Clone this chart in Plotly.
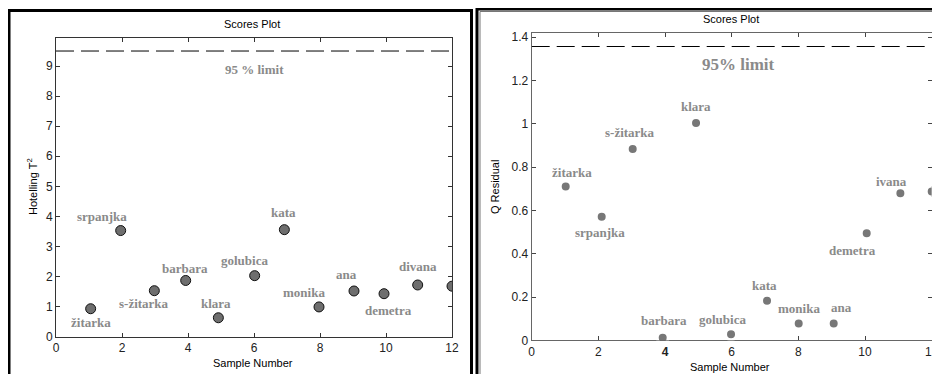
import plotly.graph_objects as go

# page body has an 8px margin, so the figure sits at (8, 8) in the 940x374 window
OFF = 8
W, H = 940 - OFF, 374 - OFF

# ---------------- data ----------------
sample_left_pos = [1.05, 1.96, 2.98, 3.93, 4.92, 6.02, 6.92, 7.97, 9.03, 9.94, 10.96, 12]
t2_values = [0.93, 3.53, 1.53, 1.87, 0.63, 2.03, 3.56, 0.99, 1.52, 1.43, 1.72, 1.68]
names_left = ["žitarka", "srpanjka", "s-žitarka", "barbara", "klara", "golubica",
              "kata", "monika", "ana", "demetra", "divana", ""]
t2_limit = 9.5

sample_right_pos = [1.02, 2.1, 3.03, 3.93, 4.93, 5.98, 7.06, 8.01, 9.06, 10.05, 11.06, 12]
q_values = [0.71, 0.571, 0.884, 0.012, 1.004, 0.028, 0.183, 0.078, 0.078, 0.494, 0.679, 0.687]
names_right = ["žitarka", "srpanjka", "s-žitarka", "barbara", "klara", "golubica",
               "kata", "monika", "ana", "demetra", "ivana", ""]
q_limit = 1.357

x_ticks = [0, 2, 4, 6, 8, 10, 12]
x_ticktext_left = ["0", "2", "4", "6", "8", "10", "12"]
x_ticktext_right = ["0", "2", "<b>4</b>", "6", "8", "10", "12"]
y_ticks_left = [0, 1, 2, 3, 4, 5, 6, 7, 8, 9]
y_ticks_right = [0, 0.2, 0.4, 0.6, 0.8, 1, 1.2, 1.4]
y_ticktext_right = ["0", "0.2", "0.4", "0.6", "0.8", "1", "1.2", "1.4"]

# label pixel offsets (dx right, dy up)
off_left = [(0, -14), (-19, 14), (-10, -13), (-1, 12), (-2, 14), (-10, 15),
            (-1, 17), (-15, 14), (-7, 16), (4, -17), (0, 18), (0, 0)]
off_right = [(6, 14), (-2, -16), (-3, 16), (1, 17), (0, 16), (-9, 15),
             (-3, 15), (0, 15), (8, 16), (-14, -17), (-9, 12), (0, 0)]

# ---------------- layout geometry (window pixels) ----------------
def px(x):
    return (x - OFF) / W

def py(y):
    return 1 - (y - OFF) / H

L_dom_x = [px(56), px(452)]
L_dom_y = [py(336.7), py(37.5)]
R_dom_x = [px(531.7), px(931.7)]
R_dom_y = [py(340.3), py(33.3)]

fig = go.Figure()

lab_font = dict(family="Liberation Serif, Times New Roman, serif", size=13, color="#8a8a8a")

fig.add_trace(go.Scatter(x=[0, 12], y=[t2_limit, t2_limit], mode="lines",
                         line=dict(color="black", width=1, dash="18px,7px"),
                         xaxis="x", yaxis="y", hoverinfo="skip", showlegend=False))
fig.add_trace(go.Scatter(x=sample_left_pos, y=t2_values, mode="markers",
                         marker=dict(size=10, color="#6e6e6e", line=dict(color="#111", width=1)),
                         xaxis="x", yaxis="y", showlegend=False, cliponaxis=True))

fig.add_trace(go.Scatter(x=[0, 12], y=[q_limit, q_limit], mode="lines",
                         line=dict(color="black", width=1, dash="18px,7px"),
                         xaxis="x2", yaxis="y2", hoverinfo="skip", showlegend=False))
fig.add_trace(go.Scatter(x=sample_right_pos, y=q_values, mode="markers",
                         marker=dict(size=11, color="#777777", line=dict(color="white", width=3)),
                         xaxis="x2", yaxis="y2", showlegend=False, cliponaxis=True))

ann = []
for xv, yv, nm, (dx, dy) in zip(sample_left_pos, t2_values, names_left, off_left):
    if nm:
        ann.append(dict(x=xv, y=yv, xref="x", yref="y", text="<b>%s</b>" % nm, showarrow=False,
                        xanchor="center", yanchor="middle",
                        xshift=dx, yshift=dy, font=lab_font))
for xv, yv, nm, (dx, dy) in zip(sample_right_pos, q_values, names_right, off_right):
    if nm:
        ann.append(dict(x=xv, y=yv, xref="x2", yref="y2", text="<b>%s</b>" % nm, showarrow=False,
                        xanchor="center", yanchor="middle",
                        xshift=dx, yshift=dy, font=lab_font))

ann.append(dict(x=6, y=t2_limit, xref="x", yref="y", text="<b>95 % limit</b>", showarrow=False,
                xanchor="center", yanchor="middle",
                yshift=-18, font=dict(family="Liberation Serif, serif", size=13, color="#8a8a8a")))
ann.append(dict(x=6.2, y=q_limit, xref="x2", yref="y2", text="<b>95% limit</b>", showarrow=False,
                xanchor="center", yanchor="middle",
                yshift=-18, font=dict(family="Liberation Serif, serif", size=17, color="#8a8a8a")))

sans = "Liberation Sans, Arial, sans-serif"


def paper_text(x, y, text, angle=0):
    return dict(x=px(x), y=py(y), xref="paper", yref="paper", text=text, showarrow=False,
                xanchor="center", yanchor="middle", textangle=angle,
                font=dict(family=sans, size=11, color="black"))


ann.append(paper_text(252, 24, "Scores Plot"))
ann.append(paper_text(731, 19, "Scores Plot"))
ann.append(paper_text(253, 362.5, "Sample Number"))
ann.append(paper_text(730, 366.5, "Sample Number"))
ann.append(paper_text(32, 187, "Hotelling T<sup>2</sup>", -90))
ann.append(paper_text(495, 187, "Q Residual", -90))

tick_font = dict(family=sans, size=12, color="#222")

common_axis = dict(showgrid=False, zeroline=False, showline=True, mirror="ticks", ticks="inside",
                   ticklen=4, tickwidth=1, tickfont=tick_font, layer="below traces",
                   automargin=False)

shapes = [
    dict(type="rect", xref="paper", yref="paper", x0=px(9), x1=px(471.5), y0=py(380), y1=py(10.5),
         line=dict(color="black", width=3), fillcolor="rgba(0,0,0,0)", layer="above"),
    dict(type="rect", xref="paper", yref="paper", x0=px(477), x1=px(950), y0=py(380), y1=py(9),
         line=dict(color="black", width=3), fillcolor="rgba(0,0,0,0)", layer="above"),
    dict(type="rect", xref="paper", yref="paper", x0=px(480), x1=px(950), y0=py(380), y1=py(11.5),
         line=dict(color="#777", width=1), fillcolor="rgba(0,0,0,0)", layer="above"),
]

fig.update_layout(
    width=W, height=H,
    margin=dict(l=0, r=0, t=0, b=0, pad=0, autoexpand=False),
    paper_bgcolor="white", plot_bgcolor="white",
    showlegend=False,
    xaxis=dict(domain=L_dom_x, range=[0, 12], tickvals=x_ticks, ticktext=x_ticktext_left,
               linecolor="#333", tickcolor="#333", anchor="y", **common_axis),
    yaxis=dict(domain=L_dom_y, range=[0, 9.95], tickvals=y_ticks_left,
               linecolor="#333", tickcolor="#333", anchor="x", **common_axis),
    xaxis2=dict(domain=R_dom_x, range=[0, 12], tickvals=x_ticks, ticktext=x_ticktext_right,
                linecolor="#666", tickcolor="#444", anchor="y2", **common_axis),
    yaxis2=dict(domain=R_dom_y, range=[0, 1.418], tickvals=y_ticks_right, ticktext=y_ticktext_right,
                linecolor="#666", tickcolor="#444", anchor="x2", **common_axis),
    annotations=ann,
    shapes=shapes,
)

fig.write_html("out.html")
